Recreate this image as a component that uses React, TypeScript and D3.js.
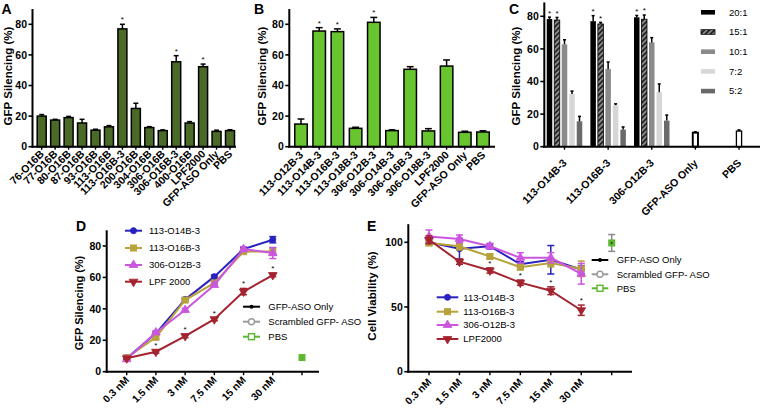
import React from "react";
import * as d3 from "d3";

const FONT = "'Liberation Sans', Arial, Helvetica, sans-serif";

// ---------- Panel A ----------
const aCategories = ["76-O16B", "77-O16B", "80-O16B", "87-O16B", "93-O16B", "113-O16B", "113-O16B-3", "200-O16B", "304-O16B", "306-O16B", "306-O16B-3", "400-O16B", "LPF2000", "GFP-ASO Only", "PBS"];
const aValues = [20, 17.4, 19, 15.5, 10.8, 13, 77, 25, 12.5, 10.5, 55.5, 15.5, 52.3, 10, 10.5];
const aErrors = [1.0, 0.5, 0.8, 2.4, 0.6, 0.8, 3, 3.4, 0.6, 0.5, 4, 0.9, 1.7, 0.8, 0.6];
const aStars = ["113-O16B-3", "306-O16B-3", "LPF2000"];

// ---------- Panel B ----------
const bCategories = ["113-O12B-3", "113-O14B-3", "113-O16B-3", "113-O18B-3", "306-O12B-3", "306-O14B-3", "306-O16B-3", "306-O18B-3", "LPF2000", "GFP-ASO Only", "PBS"];
const bValues = [14.8, 75.6, 75.2, 12, 81.3, 10.5, 50.6, 10.3, 52.7, 9.4, 9.6];
const bErrors = [3.3, 2.2, 1.8, 0.7, 3.2, 0.5, 1.7, 1.5, 4, 0.7, 0.8];
const bStars = ["113-O14B-3", "113-O16B-3", "306-O12B-3"];

// ---------- Panel C ----------
const cGroups = ["113-O14B-3", "113-O16B-3", "306-O12B-3"];
const cControls = ["GFP-ASO Only", "PBS"];
const cRatios = ["20:1", "15:1", "10:1", "7:2", "5:2"];
const cValues = [
  [78.3, 77.7, 62.8, 32.3, 15.6],
  [77, 75.3, 47.7, 25.5, 10.5],
  [79.4, 78.2, 64, 33.4, 16],
];
const cErrors = [
  [1.2, 1.6, 2.8, 1.8, 3],
  [3.4, 1.0, 4.3, 0.8, 1.6],
  [1.1, 2.6, 2.9, 5.1, 3.4],
];
const cStarRatios = ["20:1", "15:1"];
const cControlValues = [8.6, 9.6];
const cControlErrors = [0.5, 0.7];
const cRatioColors = ["#000000", "url(#hatch15)", "#8a8a8a", "#d6d6d6", "#6a6a6a"];

// ---------- Panel D / E ----------
const doses = ["0.3 nM", "1.5 nM", "3 nM", "7.5 nM", "15 nM", "30 nM"];
const xSlots = [...doses, "ctrl"];
const seriesNamesD = ["113-O14B-3", "113-O16B-3", "306-O12B-3", "LPF 2000"];
const seriesNamesE = ["113-O14B-3", "113-O16B-3", "306-O12B-3", "LPF2000"];
const seriesColors = ["#2a22bf", "#b7a23c", "#cc55e0", "#a3232f"];
const seriesMarkers = ["circle", "square", "triangle", "triangleDown"];

const dValues = [
  [8.5, 24.4, 46, 60.5, 78, 84],
  [9, 21.9, 45.6, 56.5, 76.4, 76.5],
  [7.9, 25, 39.3, 55.2, 78, 75.5],
  [8.5, 12.7, 22.7, 33.4, 51, 61.5],
];
const dErrors = [
  [0.5, 1, 1, 1, 1, 2],
  [0.5, 1.2, 1, 1, 1, 2.5],
  [0.5, 1, 1, 1, 1.5, 3.5],
  [0.5, 1, 1, 1, 2, 1],
];
const dStarsLPF = ["1.5 nM", "3 nM", "7.5 nM", "15 nM", "30 nM"];
const dPBS = 9;

const eValues = [
  [100, 95, 97, 83, 86.5, 79],
  [99.5, 97, 89, 80.8, 84, 79.5],
  [104.5, 102.6, 97, 88, 88, 75.7],
  [102, 85, 78.2, 68.8, 62.6, 47.5],
];
const eErrors = [
  [1.5, 8, 2, 2, 11, 3],
  [2, 3, 2, 2, 3, 6],
  [5, 3, 2, 4, 4, 8],
  [3, 2, 2, 2, 3, 4],
];
const eStarsLPF = ["3 nM", "7.5 nM", "15 nM", "30 nM"];
const ePBS = 99.5;
const ePBSErr = 6.5;

const ctrlLegend = ["GFP-ASO Only", "Scrambled GFP- ASO", "PBS"];
const ctrlColors = ["#000000", "#9a9a9a", "#5cb82e"];

function Marker({ type, x, y, color, size = 6, fill }: any) {
  const f = fill || color;
  if (type === "circle") return <circle cx={x} cy={y} r={size / 2} fill={f} stroke={color} strokeWidth={1} />;
  if (type === "square") return <rect x={x - size / 2} y={y - size / 2} width={size} height={size} fill={f} stroke={color} strokeWidth={1} />;
  const sym = d3.symbol().type(d3.symbolTriangle).size(size * size * 0.9)();
  return (
    <path d={sym as string} transform={`translate(${x},${y}) rotate(${type === "triangleDown" ? 180 : 0})`} fill={f} stroke={color} strokeWidth={0.8} />
  );
}

function YAxis({ x, scale, ticks, topVal, title, titleX, titleY, titleSize = 11.5 }: any) {
  return (
    <g>
      <line x1={x} x2={x} y1={scale(topVal)} y2={scale(0) + 1} stroke="#000" strokeWidth={2} />
      {ticks.map((t: number) => (
        <g key={t}>
          <line x1={x - 4} x2={x} y1={scale(t)} y2={scale(t)} stroke="#000" strokeWidth={1.6} />
          <text x={x - 5.5} y={scale(t)} dy="0.36em" textAnchor="end" fontSize={10.5} fontWeight="bold" fontFamily={FONT}>{t}</text>
        </g>
      ))}
      <text transform={`translate(${titleX},${titleY}) rotate(-90)`} textAnchor="middle" dominantBaseline="central" fontSize={titleSize} fontWeight="bold" fontFamily={FONT}>{title}</text>
    </g>
  );
}

function Star({ x, y }: any) {
  return <text x={x} y={y} textAnchor="middle" fontSize={8} fontFamily={FONT}>*</text>;
}

function ErrUp({ x, y1, y2, w, color = "#000" }: any) {
  return (
    <g stroke={color} strokeWidth={1.5}>
      <line x1={x} x2={x} y1={y1} y2={y2} />
      <line x1={x - w / 2} x2={x + w / 2} y1={y2} y2={y2} />
    </g>
  );
}

function BarPanel({ cats, vals, errs, stars, xr, barW, color, yScale, axisX, axisEnd, labelDy }: any) {
  const x = d3.scalePoint<string>().domain(cats).range(xr);
  const y0 = yScale(0);
  return (
    <g>
      {cats.map((c: string, i: number) => {
        const cx = x(c) as number;
        const top = yScale(vals[i]);
        const et = yScale(vals[i] + errs[i]);
        return (
          <g key={c}>
            <rect x={cx - barW / 2} y={top} width={barW} height={y0 - top} fill={color} stroke="#000" strokeWidth={1.5} />
            <ErrUp x={cx} y1={top} y2={et} w={barW * 0.55} />
            {stars.includes(c) && <Star x={cx} y={et - 2} />}
            <line x1={cx} x2={cx} y1={y0} y2={y0 + 3} stroke="#000" strokeWidth={1.4} />
            <text transform={`translate(${cx + 3},${y0 + labelDy}) rotate(-45)`} textAnchor="end" fontSize={10.6} fontWeight="bold" fontFamily={FONT}>{c}</text>
          </g>
        );
      })}
      <line x1={axisX - 1} x2={axisEnd} y1={y0} y2={y0} stroke="#000" strokeWidth={2} />
    </g>
  );
}

function LinePanel({ xr, yScale, values, errors, names, starsLPF, axisX, axisEnd, labelDy }: any) {
  const x = d3.scalePoint<string>().domain(xSlots).range(xr);
  const y0 = yScale(0);
  const line = d3.line<number>().x((_, i) => x(doses[i]) as number).y((v) => yScale(v));
  return (
    <g>
      {values.map((vals: number[], s: number) => (
        <g key={s}>
          <path d={line(vals) as string} fill="none" stroke={seriesColors[s]} strokeWidth={2} />
          {vals.map((v, i) => {
            const cx = x(doses[i]) as number;
            return (
              <g key={i} stroke={seriesColors[s]} strokeWidth={1.5}>
                <line x1={cx} x2={cx} y1={yScale(v - errors[s][i])} y2={yScale(v + errors[s][i])} />
                <line x1={cx - 3.5} x2={cx + 3.5} y1={yScale(v - errors[s][i])} y2={yScale(v - errors[s][i])} />
                <line x1={cx - 3.5} x2={cx + 3.5} y1={yScale(v + errors[s][i])} y2={yScale(v + errors[s][i])} />
              </g>
            );
          })}
          {vals.map((v, i) => (
            <Marker key={"m" + i} type={seriesMarkers[s]} x={x(doses[i])} y={yScale(v)} color={seriesColors[s]} size={6} />
          ))}
          {s === 3 && vals.map((v, i) => starsLPF.includes(doses[i]) ? <Star key={"s" + i} x={x(doses[i])} y={yScale(v + errors[s][i]) - 2} /> : null)}
        </g>
      ))}
      <line x1={axisX - 1} x2={axisEnd} y1={y0} y2={y0} stroke="#000" strokeWidth={2} />
      {xSlots.map((d) => (
        <g key={d}>
          <line x1={x(d)} x2={x(d)} y1={y0} y2={y0 + 3.5} stroke="#000" strokeWidth={1.4} />
          {d !== "ctrl" && (
            <text transform={`translate(${(x(d) as number) + 3},${y0 + labelDy}) rotate(-45)`} textAnchor="end" fontSize={10.3} fontWeight="bold" fontFamily={FONT}>{d}</text>
          )}
        </g>
      ))}
    </g>
  );
}

function SeriesLegend({ names, x1, x2, tx, ys }: any) {
  return (
    <g>
      {names.map((n: string, i: number) => (
        <g key={n}>
          <line x1={x1} x2={x2} y1={ys[i]} y2={ys[i]} stroke={seriesColors[i]} strokeWidth={2} />
          <Marker type={seriesMarkers[i]} x={(x1 + x2) / 2} y={ys[i]} color={seriesColors[i]} size={6} />
          <text x={tx} y={ys[i]} dy="0.35em" fontSize={9.5} fontFamily={FONT}>{n}</text>
        </g>
      ))}
    </g>
  );
}

function CtrlLegend({ x1, x2, tx, ys }: any) {
  const mx = (x1 + x2) / 2;
  return (
    <g>
      {ctrlLegend.map((n, i) => (
        <g key={n}>
          <line x1={x1} x2={x2} y1={ys[i]} y2={ys[i]} stroke={ctrlColors[i]} strokeWidth={2} />
          {i === 0 && <circle cx={mx} cy={ys[i]} r={2} fill="#000" />}
          {i === 1 && <circle cx={mx} cy={ys[i]} r={3} fill="#fff" stroke={ctrlColors[i]} strokeWidth={1.4} />}
          {i === 2 && <rect x={mx - 3} y={ys[i] - 3} width={6} height={6} fill="#fff" stroke={ctrlColors[i]} strokeWidth={1.4} />}
          <text x={tx} y={ys[i]} dy="0.35em" fontSize={9.5} fontFamily={FONT}>{n}</text>
        </g>
      ))}
    </g>
  );
}

export default function App() {
  // Scales
  const abY = d3.scaleLinear().domain([0, 80]).range([146.7, 24.3]);
  const cY = d3.scaleLinear().domain([0, 80]).range([146.7, 16.3]);
  const dY = d3.scaleLinear().domain([0, 80]).range([371.7, 246]);
  const eY = d3.scaleLinear().domain([0, 100]).range([371.7, 242.3]);

  const cGroupX = d3.scalePoint<string>().domain([...cGroups, ...cControls]).range([564.5, 739]);
  const cInner = d3.scalePoint<string>().domain(cRatios).range([-15, 15]);
  const cBarW = 5.5;

  const eX = d3.scalePoint<string>().domain(xSlots).range([429, 611.7]);
  const dX = d3.scalePoint<string>().domain(xSlots).range([126.7, 302]);

  return (
    <svg width={760} height={409} style={{ position: "absolute", left: 0, top: 0, background: "#fff" }} fontFamily={FONT}>
      <defs>
        <pattern id="hatch15" patternUnits="userSpaceOnUse" width="3.6" height="3.6" patternTransform="rotate(45)">
          <rect width="3.6" height="3.6" fill="#8a8a8a" />
          <line x1="0.9" y1="0" x2="0.9" y2="3.6" stroke="#111" strokeWidth="1.5" />
        </pattern>
      </defs>
      <rect width={760} height={409} fill="#fff" />

      {/* Panel A */}
      <text x={1.5} y={14} fontSize={14} fontWeight="bold">A</text>
      <YAxis x={32.5} scale={abY} ticks={[0, 20, 40, 60, 80]} topVal={90} title="GFP Silencing (%)" titleX={8} titleY={76} />
      <BarPanel cats={aCategories} vals={aValues} errs={aErrors} stars={aStars} xr={[41.7, 230]} barW={9} color="#4b6a27" yScale={abY} axisX={32.5} axisEnd={236} labelDy={8} />

      {/* Panel B */}
      <text x={254} y={14} fontSize={14} fontWeight="bold">B</text>
      <YAxis x={289.3} scale={abY} ticks={[0, 20, 40, 60, 80]} topVal={90} title="GFP Silencing (%)" titleX={262} titleY={76} />
      <BarPanel cats={bCategories} vals={bValues} errs={bErrors} stars={bStars} xr={[301, 483]} barW={12.5} color="#68c530" yScale={abY} axisX={289.3} axisEnd={495} labelDy={9} />

      {/* Panel C */}
      <text x={509} y={14} fontSize={14} fontWeight="bold">C</text>
      <YAxis x={544.3} scale={cY} ticks={[0, 20, 40, 60, 80]} topVal={88.5} title="GFP Silencing (%)" titleX={516} titleY={76} />
      {cGroups.map((g, gi) => (
        <g key={g}>
          {cRatios.map((r, ri) => {
            const cx = (cGroupX(g) as number) + (cInner(r) as number);
            const v = cValues[gi][ri];
            const top = cY(v);
            const et = cY(v + cErrors[gi][ri]);
            return (
              <g key={r}>
                <rect x={cx - cBarW / 2} y={top} width={cBarW} height={cY(0) - top} fill={cRatioColors[ri]} stroke={ri === 1 ? "#000" : "none"} strokeWidth={0.8} />
                <ErrUp x={cx} y1={top} y2={et} w={3} />
                {cStarRatios.includes(r) && <Star x={cx} y={et - 1.5} />}
              </g>
            );
          })}
        </g>
      ))}
      {cControls.map((g, i) => {
        const cx = cGroupX(g) as number;
        const top = cY(cControlValues[i]);
        return (
          <g key={g}>
            <rect x={cx - 2.6} y={top} width={5.2} height={cY(0) - top} fill="#fff" stroke="#000" strokeWidth={i === 0 ? 1.9 : 1.3} />
            <ErrUp x={cx} y1={top} y2={cY(cControlValues[i] + cControlErrors[i])} w={3} />
          </g>
        );
      })}
      <line x1={543.3} x2={760} y1={cY(0)} y2={cY(0)} stroke="#000" strokeWidth={2} />
      {[...cGroups, ...cControls].map((g) => {
        const cx = cGroupX(g) as number;
        return (
          <g key={g}>
            <line x1={cx} x2={cx} y1={cY(0)} y2={cY(0) + 3} stroke="#000" strokeWidth={1.4} />
            <text transform={`translate(${cx + 3},${cY(0) + 17}) rotate(-45)`} textAnchor="end" fontSize={10.6} fontWeight="bold">{g}</text>
          </g>
        );
      })}
      {cRatios.map((r, i) => (
        <g key={r}>
          <rect x={701} y={12.3 + i * 19.7 - 2.3} width={14} height={4.6} fill={cRatioColors[i]} stroke={i === 1 ? "#000" : "none"} strokeWidth={0.8} />
          <text x={729} y={12.3 + i * 19.7} dy="0.35em" fontSize={9.5}>{r}</text>
        </g>
      ))}

      {/* Panel D */}
      <text x={76} y={231} fontSize={14} fontWeight="bold">D</text>
      <YAxis x={106.7} scale={dY} ticks={[0, 20, 40, 60, 80]} topVal={90} title="GFP Silencing (%)" titleX={78.5} titleY={303} titleSize={11} />
      <LinePanel xr={[126.7, 302]} yScale={dY} values={dValues} errors={dErrors} starsLPF={dStarsLPF} axisX={106.7} axisEnd={319} labelDy={9} />
      <rect x={(dX("ctrl") as number) - 3.5} y={dY(dPBS) - 3.5} width={7} height={7} fill="#5cb82e" />
      <SeriesLegend names={seriesNamesD} x1={125} x2={142} tx={149} ys={[230.7, 248, 265, 281.7]} />
      <CtrlLegend x1={243} x2={260} tx={268.3} ys={[306.7, 321.7, 336.7]} />

      {/* Panel E */}
      <text x={367} y={231} fontSize={14} fontWeight="bold">E</text>
      <YAxis x={408.3} scale={eY} ticks={[0, 50, 100]} topVal={114} title="Cell Viability (%)" titleX={372} titleY={296} />
      <LinePanel xr={[429, 611.7]} yScale={eY} values={eValues} errors={eErrors} starsLPF={eStarsLPF} axisX={408.3} axisEnd={632} labelDy={11} />
      <g>
        {(() => {
          const cx = eX("ctrl") as number;
          return (
            <g>
              <g stroke="#8a8a8a" strokeWidth={1.5}>
                <line x1={cx} x2={cx} y1={eY(ePBS - ePBSErr)} y2={eY(ePBS + ePBSErr)} />
                <line x1={cx - 3.5} x2={cx + 3.5} y1={eY(ePBS - ePBSErr)} y2={eY(ePBS - ePBSErr)} />
                <line x1={cx - 3.5} x2={cx + 3.5} y1={eY(ePBS + ePBSErr)} y2={eY(ePBS + ePBSErr)} />
              </g>
              <rect x={cx - 3.5} y={eY(ePBS) - 3.5} width={7} height={7} fill="#5cb82e" />
              <circle cx={cx} cy={eY(ePBS)} r={1} fill="#333" />
            </g>
          );
        })()}
      </g>
      <CtrlLegend x1={591.7} x2={608.3} tx={616.7} ys={[260, 274.3, 288.3]} />
      <SeriesLegend names={seriesNamesE} x1={436.7} x2={458.3} tx={463.3} ys={[297.3, 311.7, 325, 339]} />
    </svg>
  );
}
